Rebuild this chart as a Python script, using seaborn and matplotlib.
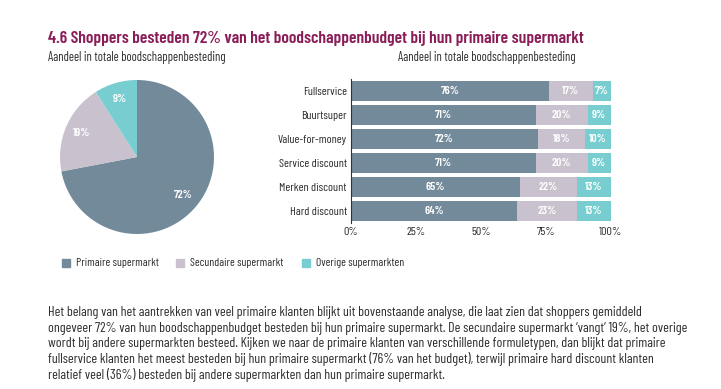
import pandas as pd
import seaborn as sns
import matplotlib.pyplot as plt
from matplotlib import font_manager as fm

# Data
segments = ["Primaire supermarkt", "Secundaire supermarkt", "Overige supermarkten"]
pie_values = [72, 19, 9]

formats = ["Fullservice", "Buurtsuper", "Value-for-money", "Service discount",
           "Merken discount", "Hard discount"]
primair = [76, 71, 72, 71, 65, 64]
secundair = [17, 20, 18, 20, 22, 23]
overig = [7, 9, 10, 9, 13, 13]

x_ticks = [0, 25, 50, 75, 100]

colors = ["#738A9B", "#C9C2CE", "#78CDD0"]
title_color = "#8A1C58"
text_color = "#2B2B2B"

sns.set_theme(style="white")

# Condensed font if available, otherwise shrink DejaVu Sans
available = {f.name for f in fm.fontManager.ttflist}
if "Barlow Condensed" in available:
    plt.rcParams["font.family"] = ["Barlow Condensed", "DejaVu Sans"]
    fs = 1.0
else:
    plt.rcParams["font.family"] = ["DejaVu Sans"]
    fs = 0.72

fig = plt.figure(figsize=(7.21, 3.89), dpi=100)

# Title and subtitles
fig.text(48 / 721, 1 - 43 / 389, "4.6 Shoppers besteden 72% van het boodschappenbudget bij hun primaire supermarkt",
         color=title_color, fontsize=12.6 * fs, fontweight="semibold", va="baseline")
fig.text(48 / 721, 1 - 61 / 389, "Aandeel in totale boodschappenbesteding",
         color=text_color, fontsize=9 * fs, va="baseline")
fig.text(398 / 721, 1 - 61 / 389, "Aandeel in totale boodschappenbesteding",
         color=text_color, fontsize=9 * fs, va="baseline")

# Pie chart
ax_pie = fig.add_axes([60 / 721, 1 - 234 / 389, 154 / 721, 154 / 389])
ax_pie.pie(
    pie_values, colors=colors, startangle=90, counterclock=False,
    autopct="%d%%", pctdistance=0.78,
    wedgeprops=dict(linewidth=0),
    textprops=dict(color="white", fontsize=8.5 * fs, fontweight="semibold"),
)
ax_pie.set_xlim(-1, 1)
ax_pie.set_ylim(-1, 1)
ax_pie.set_aspect("equal")

# Stacked bar chart
df = pd.DataFrame({"formule": formats, "primair": primair,
                   "secundair": secundair, "overig": overig})
df["cum2"] = df["primair"] + df["secundair"]
df["cum3"] = df["cum2"] + df["overig"]

ax = fig.add_axes([351 / 721, 1 - 223 / 389, 260 / 721, 144 / 389])
for col, c in zip(["cum3", "cum2", "primair"], colors[::-1]):
    sns.barplot(data=df, y="formule", x=col, color=c, orient="h",
                width=0.87, ax=ax, saturation=1, linewidth=0)

for i, row in df.iterrows():
    starts = [0, row["primair"], row["cum2"]]
    vals = [row["primair"], row["secundair"], row["overig"]]
    for s, v in zip(starts, vals):
        ax.text(s + v / 2, i, f"{v}%", color="white", fontsize=8.5 * fs,
                fontweight="semibold", ha="center", va="center")

ax.set_xlim(0, 100)
ax.set_xticks(x_ticks)
ax.set_xticklabels([f"{t}%" for t in x_ticks])
ax.set_xlabel("")
ax.set_ylabel("")
ax.tick_params(axis="both", length=0, labelsize=8.7 * fs, colors=text_color, pad=3)
for side in ["top", "right", "bottom"]:
    ax.spines[side].set_visible(False)
ax.spines["left"].set_color("#333333")
ax.spines["left"].set_linewidth(0.8)

# Legend
legend_x = [62, 176, 302]
for x, lab, c in zip(legend_x, segments, colors):
    fig.patches.append(plt.Rectangle((x / 721, 1 - 267 / 389), 8 / 721, 8 / 389,
                                     transform=fig.transFigure, color=c))
    fig.text((x + 14) / 721, 1 - 263 / 389, lab, fontsize=8.4 * fs, color=text_color,
             va="center")

# Body text
body = [
    "Het belang van het aantrekken van veel primaire klanten blijkt uit bovenstaande analyse, die laat zien dat shoppers gemiddeld",
    "ongeveer 72% van hun boodschappenbudget besteden bij hun primaire supermarkt. De secundaire supermarkt \u2018vangt\u2019 19%, het overige",
    "wordt bij andere supermarkten besteed. Kijken we naar de primaire klanten van verschillende formuletypen, dan blijkt dat primaire",
    "fullservice klanten het meest besteden bij hun primaire supermarkt (76% van het budget), terwijl primaire hard discount klanten",
    "relatief veel (36%) besteden bij andere supermarkten dan hun primaire supermarkt.",
]
for k, line in enumerate(body):
    fig.text(48 / 721, 1 - (316 + k * 15.7) / 389, line, fontsize=10 * fs,
             color=text_color, va="baseline")

fig.savefig("out.png", dpi=100)
